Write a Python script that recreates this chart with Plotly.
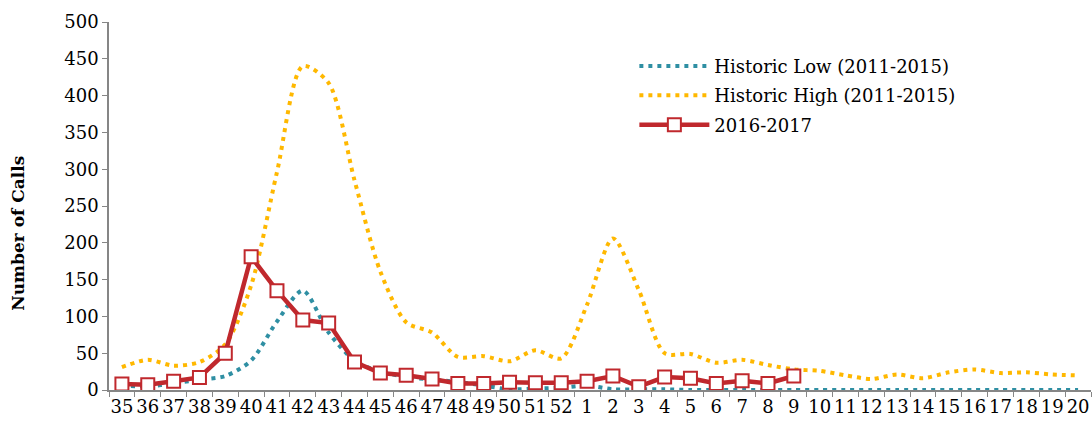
import plotly.graph_objects as go

weeks = [str(w) for w in list(range(35, 53)) + list(range(1, 21))]

historic_low = [6, 5, 9, 14, 19, 40, 93, 135, 78, 40, 25, 18, 14, 11, 6, 1, 2, 3, 6, 1,
                1, 1, 0, 0, 0, 0, 0, 0, 0, 0, 0, 0, 0, 0, 0, 0, 0, 0]
historic_high = [31, 41, 33, 38, 62, 142, 296, 440, 417, 285, 161, 92, 78, 45, 46, 39, 54, 43, 116, 206,
                 136, 50, 49, 37, 41, 34, 28, 26, 20, 15, 21, 16, 24, 28, 23, 24, 21, 20]
season_2016 = [8, 7, 12, 17, 50, 181, 135, 95, 91, 38, 23, 20, 15, 9, 9, 10.5, 10, 10, 12, 19,
               4.5, 17.5, 16, 9, 12.5, 9, 19]

FONT = "DejaVu Serif"
fig = go.Figure()
fig.add_trace(go.Scatter(
    x=weeks, y=historic_low, name="Historic Low (2011-2015)", mode="lines",
    line=dict(color="#2F8FA3", width=4, dash="4px,5px", shape="spline", smoothing=0.8),
    legendgroup="a"))
fig.add_trace(go.Scatter(
    x=weeks, y=historic_high, name="Historic High (2011-2015)", mode="lines",
    line=dict(color="#FFB800", width=4, dash="4px,5px", shape="spline", smoothing=0.8),
    legendgroup="b"))
fig.add_trace(go.Scatter(
    x=weeks[:len(season_2016)], y=season_2016, name="2016-2017", mode="lines+markers",
    line=dict(color="#C0282D", width=4.5),
    marker=dict(symbol="square", size=13, color="white", line=dict(color="#C0282D", width=2)),
    legendgroup="c"))

axis_font = dict(family=FONT, size=18, color="#000000")
fig.update_layout(
    width=1092, height=428,
    margin=dict(l=109, r=1, t=22, b=38, autoexpand=False),
    paper_bgcolor="white", plot_bgcolor="white",
    font=dict(family=FONT, size=18, color="#000000"),
    showlegend=True,
    legend=dict(x=0.535, y=0.93, xanchor="left", yanchor="top",
                bgcolor="rgba(0,0,0,0)", font=dict(family=FONT, size=18),
                tracegroupgap=3, itemwidth=70),
    xaxis=dict(type="category", categoryorder="array", categoryarray=weeks,
               range=[-0.5, 37.5], tickson="boundaries", ticks="outside", ticklen=5,
               tickcolor="#868686", showline=True, linecolor="#868686", linewidth=1.5,
               showgrid=False, zeroline=False, tickfont=axis_font, tickangle=0,
               automargin=False),
    yaxis=dict(range=[0, 500], dtick=50, ticks="outside", ticklen=5, tickcolor="#868686",
               showline=True, linecolor="#868686", linewidth=1.5, showgrid=False,
               zeroline=False, tickfont=axis_font, automargin=False),
    annotations=[dict(text="<b>Number of Calls</b>", textangle=-90, showarrow=False,
                      xref="paper", yref="paper", x=-0.0927, y=0.427,
                      xanchor="center", yanchor="middle",
                      font=dict(family=FONT, size=17, color="#000000"))],
)
fig.write_html("out.html", config={"displayModeBar": False},
               post_script="document.body.style.margin='0px';document.body.style.overflow='hidden';")
